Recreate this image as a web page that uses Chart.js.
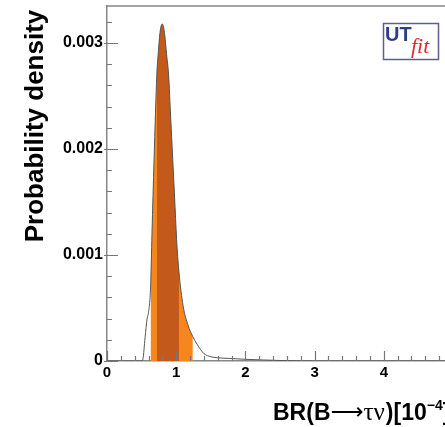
<!DOCTYPE html>
<html>
<head>
<meta charset="utf-8">
<script src="https://cdn.jsdelivr.net/npm/chart.js@4.4.1/dist/chart.umd.min.js"></script>
<style>
  html, body { margin: 0; padding: 0; background: #fff; overflow: hidden; }
  #wrap { width: 480px; height: 427px; }
</style>
</head>
<body>
<div id="wrap"><canvas id="brChart" width="480" height="427"></canvas></div>
<script>
// BR(B -> tau nu) posterior
const brX = [0, 0.2, 0.4, 0.5, 0.52, 0.55, 0.58, 0.6, 0.63, 0.65, 0.68, 0.72, 0.74, 0.77, 0.8,
             0.83, 0.86, 0.89, 0.92, 0.95, 0.98, 1.01, 1.04, 1.1, 1.17, 1.24, 1.3, 1.35, 1.4,
             1.5, 1.6, 1.75, 2.0, 2.25, 2.5, 3.0, 4.0, 5.0];
const density = [0, 0, 0, 0, 0.00002, 0.00022, 0.0004, 0.00046, 0.0007, 0.0012, 0.0019, 0.0027, 0.0029, 0.00312, 0.00318,
                 0.0031, 0.0029, 0.0027, 0.0023, 0.0019, 0.0015, 0.0011, 0.00084, 0.00052, 0.00034, 0.00023, 0.00016, 0.00011, 0.00007,
                 0.00004, 0.00003, 0.000025, 0.000016, 0.00001, 0.000005, 0, 0, 0];

// probability intervals (95% light, 68% dark)
const band95 = [0.63, 1.24];
const band68 = [0.72, 1.04];

const xTicks = [0, 1, 2, 3, 4, 5];
const yTicks = [0, 0.001, 0.002, 0.003];

const points = brX.map((x, i) => ({ x: x, y: density[i] }));
const inBand = (b) => points.filter(p => p.x >= b[0] - 1e-9 && p.x <= b[1] + 1e-9);

// ROOT-like frame, inward ticks, axis titles and logo
const rootStyle = {
    id: 'rootStyle',
    afterDraw(chart) {
        const ctx = chart.ctx;
        const a = chart.chartArea;
        const xs = chart.scales.x, ys = chart.scales.y;
        ctx.save();
        ctx.strokeStyle = '#888';
        ctx.lineWidth = 1.5;
        ctx.beginPath();
        ctx.moveTo(a.left, a.top); ctx.lineTo(a.right, a.top); ctx.lineTo(a.right, a.bottom);
        ctx.stroke();

        ctx.strokeStyle = '#777';
        ctx.lineWidth = 1.2;
        ctx.beginPath();
        for (let v = 0; v <= 5.001; v += 0.2) {
            const px = Math.round(xs.getPixelForValue(v)) + 0.5;
            const major = Math.abs(v - Math.round(v)) < 1e-6;
            ctx.moveTo(px, a.bottom);
            ctx.lineTo(px, a.bottom - (major ? 10 : 5));
        }
        for (let v = 0; v <= 0.00334; v += 0.0002) {
            const py = Math.round(ys.getPixelForValue(v)) + 0.5;
            const major = Math.abs(v / 0.001 - Math.round(v / 0.001)) < 1e-6;
            ctx.moveTo(major ? a.left - 3 : a.left, py);
            ctx.lineTo(a.left + (major ? 11 : 5), py);
        }
        ctx.stroke();

        // y title
        ctx.fillStyle = '#000';
        ctx.save();
        ctx.translate(43, 126);
        ctx.rotate(-Math.PI / 2);
        ctx.font = 'bold 26px "Liberation Sans", Arial, sans-serif';
        ctx.textAlign = 'center';
        ctx.textBaseline = 'alphabetic';
        ctx.fillText('Probability density', 0, 0);
        ctx.restore();

        // x title, drawn piece by piece
        ctx.textAlign = 'left';
        ctx.textBaseline = 'alphabetic';
        let tx = 273;
        const by = 420;
        const bold = 'bold 23px "Liberation Sans", Arial, sans-serif';
        ctx.font = bold;
        ctx.fillText('BR(B', tx, by);
        tx += ctx.measureText('BR(B').width;
        ctx.font = '23px "DejaVu Sans", sans-serif';
        ctx.fillText('\u27F6', tx, by - 1);
        tx += ctx.measureText('\u27F6').width;
        ctx.font = '25px "Liberation Serif", serif';
        ctx.fillText('\u03C4\u03BD', tx, by);
        tx += ctx.measureText('\u03C4\u03BD').width + 1;
        ctx.font = bold;
        ctx.fillText(')[10', tx, by);
        tx += ctx.measureText(')[10').width;
        ctx.font = 'bold 14px "Liberation Sans", Arial, sans-serif';
        ctx.fillText('\u22124', tx, by - 10);
        tx += ctx.measureText('\u22124').width;
        ctx.font = bold;
        ctx.fillText(']', tx, by);

        // UTfit logo
        ctx.fillStyle = '#fff';
        ctx.fillRect(383, 23, 56, 37);
        ctx.strokeStyle = '#5a5f8f';
        ctx.lineWidth = 1.5;
        ctx.strokeRect(383.5, 23.5, 55, 36);
        ctx.fillStyle = '#2f3d88';
        ctx.font = 'bold 20px "Liberation Sans", Arial, sans-serif';
        ctx.fillText('UT', 385, 41);
        ctx.fillStyle = '#dd2a2a';
        ctx.font = 'italic 22px "Liberation Serif", serif';
        ctx.fillText('fit', 411, 53);
        ctx.restore();
    }
};

new Chart(document.getElementById('brChart'), {
    type: 'line',
    data: {
        datasets: [
            {
                label: 'p.d.f.',
                data: points,
                borderColor: '#555',
                borderWidth: 1,
                pointRadius: 0,
                fill: false,
                cubicInterpolationMode: 'monotone',
                order: 0
            },
            {
                label: '68%',
                data: inBand(band68),
                borderWidth: 0,
                borderColor: 'rgba(0,0,0,0)',
                backgroundColor: '#c4591c',
                pointRadius: 0,
                fill: 'origin',
                cubicInterpolationMode: 'monotone',
                order: 1
            },
            {
                label: '95%',
                data: inBand(band95),
                borderWidth: 0,
                borderColor: 'rgba(0,0,0,0)',
                backgroundColor: '#f7861c',
                pointRadius: 0,
                fill: 'origin',
                cubicInterpolationMode: 'monotone',
                order: 2
            }
        ]
    },
    options: {
        responsive: false,
        animation: false,
        devicePixelRatio: 1,
        layout: { padding: { left: 0, top: 6, right: 27, bottom: 0 } },
        plugins: {
            legend: { display: false },
            tooltip: { enabled: false }
        },
        scales: {
            x: {
                type: 'linear',
                min: 0,
                max: 5,
                afterBuildTicks: s => { s.ticks = xTicks.map(v => ({ value: v })); },
                afterFit: s => { s.height = 66; s.paddingLeft = 0; s.paddingRight = 0; },
                grid: { display: false, drawTicks: false },
                border: { display: true, color: '#888', width: 1.5 },
                ticks: {
                    padding: 3,
                    color: '#000',
                    maxRotation: 0,
                    font: { family: '"Liberation Sans", Arial, sans-serif', size: 15, weight: 'bold' },
                    callback: v => String(v)
                }
            },
            y: {
                type: 'linear',
                min: 0,
                max: 0.00335,
                afterBuildTicks: s => { s.ticks = yTicks.map(v => ({ value: v })); },
                afterFit: s => { s.width = 107; s.paddingTop = 0; s.paddingBottom = 0; },
                grid: { display: false, drawTicks: false },
                border: { display: true, color: '#888', width: 1.5 },
                ticks: {
                    padding: 4,
                    color: '#000',
                    font: { family: '"Liberation Sans", Arial, sans-serif', size: 16, weight: 'bold' },
                    callback: v => v === 0 ? '0' : v.toFixed(3)
                }
            }
        }
    },
    plugins: [rootStyle]
});
</script>
</body>
</html>
